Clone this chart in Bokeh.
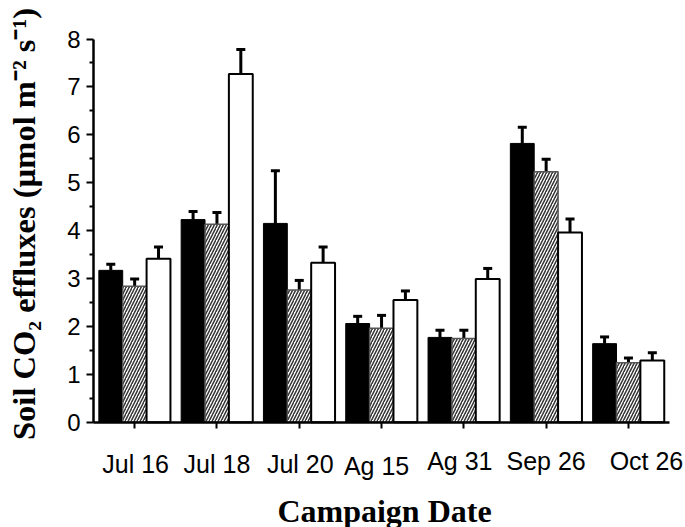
import math
from bokeh.plotting import figure
from bokeh.models import Range1d, FixedTicker, Whisker, TeeHead, ColumnDataSource, Label
from bokeh.embed import file_html
from bokeh.resources import INLINE

# ---- data ----
dates = ["Jul 16", "Jul 18", "Jul 20", "Ag 15", "Ag 31", "Sep 26", "Oct 26"]
black_mean = [3.17, 4.23, 4.15, 2.06, 1.77, 5.82, 1.64]
black_err = [0.13, 0.17, 1.10, 0.15, 0.15, 0.34, 0.14]
hatch_mean = [2.84, 4.13, 2.76, 1.96, 1.75, 5.23, 1.24]
hatch_err = [0.15, 0.25, 0.20, 0.27, 0.17, 0.26, 0.10]
white_mean = [3.41, 7.27, 3.33, 2.55, 2.99, 3.96, 1.29]
white_err = [0.25, 0.51, 0.33, 0.19, 0.22, 0.28, 0.16]
y_ticks = [0, 1, 2, 3, 4, 5, 6, 7, 8]
x_title = "Campaign Date"
y_title = "Soil CO\u2082 effluxes (\u00b5mol m\u207b\u00b2 s\u207b\u00b9)"

# ---- layout (pixels, not data) ----
W, H = 685, 527
axis_left_px, top8_px, zero_px = 93.0, 38.5, 421.7
px_per_cat = 82.3
px_per_unit = (zero_px - top8_px) / 8.0
bar_w = 0.29
offsets = [-0.29, 0.0, 0.29]
label_dx_px = [1, 0, 1, -5, -4, 0, 18]            # horizontal shift of date labels
label_mid_px = [463, 463, 463, 465.5, 460, 460.5, 460.5]  # vertical centre of date labels
xtitle_px = (384, 510)
ytitle_px = (23, 223.5)

n = len(dates)
idx = list(range(n))


def dx(px):
    return -0.5 + (px - axis_left_px) / px_per_cat


def dy(py):
    return (zero_px - py) / px_per_unit


p = figure(width=W, height=H, output_backend="svg", toolbar_location=None,
           x_range=Range1d(dx(0), dx(W)), y_range=Range1d(dy(H), dy(0)),
           min_border_left=0, min_border_right=0,
           min_border_top=0, min_border_bottom=0)
p.outline_line_color = None
p.xgrid.visible = False
p.ygrid.visible = False
p.background_fill_color = "white"
p.border_fill_color = "white"

series = [
    (black_mean, black_err, dict(fill_color="black", line_color="black", line_width=1)),
    (hatch_mean, hatch_err, dict(fill_color="white", line_color="#555555", line_width=1.5,
                                 hatch_pattern="/", hatch_color="#333333",
                                 hatch_scale=6, hatch_weight=1.5)),
    (white_mean, white_err, dict(fill_color="white", line_color="black", line_width=2)),
]

for (mean, err, style), off in zip(series, offsets):
    xs = [i + off for i in idx]
    src = ColumnDataSource(dict(x=xs, top=mean,
                                upper=[m + e for m, e in zip(mean, err)],
                                lower=mean))
    p.vbar(x="x", top="top", width=bar_w, bottom=0, source=src, **style)
    w = Whisker(base="x", upper="upper", lower="lower", source=src,
                dimension="height", line_width=3, line_color="black",
                upper_head=TeeHead(size=9, line_width=3, line_color="black"),
                lower_head=None)
    p.add_layout(w)

# x axis (drawn at y = 0)
p.xaxis.fixed_location = 0
p.xaxis.bounds = (-0.5, n - 0.5)
p.xaxis.ticker = FixedTicker(ticks=idx)
p.xaxis.major_label_text_font_size = "0px"
p.xaxis.major_label_text_alpha = 0
p.xaxis.minor_tick_line_color = None
p.xaxis.major_tick_out = 6
p.xaxis.major_tick_in = 0
p.xaxis.major_tick_line_width = 2
p.xaxis.axis_line_width = 2.5
p.xaxis.axis_line_color = "black"
p.xaxis.major_tick_line_color = "black"

for i, name in enumerate(dates):
    p.add_layout(Label(x=i + label_dx_px[i] / px_per_cat, y=dy(label_mid_px[i]), text=name,
                       text_align="center", text_baseline="middle",
                       text_font="Liberation Sans", text_font_size="25px",
                       text_color="black"))

p.add_layout(Label(x=dx(xtitle_px[0]), y=dy(xtitle_px[1]), text=x_title,
                   text_align="center", text_baseline="middle",
                   text_font="Liberation Serif", text_font_style="bold",
                   text_font_size="32px", text_color="black"))

# y axis (drawn at x = -0.5)
p.yaxis.fixed_location = -0.5
p.yaxis.bounds = (0, 8)
p.yaxis.ticker = FixedTicker(ticks=y_ticks, minor_ticks=[t + 0.5 for t in y_ticks[:-1]])
p.yaxis.major_tick_out = 7
p.yaxis.major_tick_in = 0
p.yaxis.minor_tick_out = 4
p.yaxis.minor_tick_in = 0
p.yaxis.major_tick_line_width = 2
p.yaxis.minor_tick_line_width = 2
p.yaxis.axis_line_width = 2.5
p.yaxis.axis_line_color = "black"
p.yaxis.major_tick_line_color = "black"
p.yaxis.minor_tick_line_color = "black"
p.yaxis.major_label_text_font = "Liberation Sans"
p.yaxis.major_label_text_font_size = "24px"
p.yaxis.major_label_text_color = "black"
p.yaxis.major_label_standoff = 6

p.add_layout(Label(x=dx(ytitle_px[0]), y=dy(ytitle_px[1]), text=y_title,
                   angle=math.pi / 2, text_align="center", text_baseline="middle",
                   text_font="Liberation Serif", text_font_style="bold",
                   text_font_size="32.5px", text_color="black"))

open("out.html", "w").write(file_html(p, INLINE))
